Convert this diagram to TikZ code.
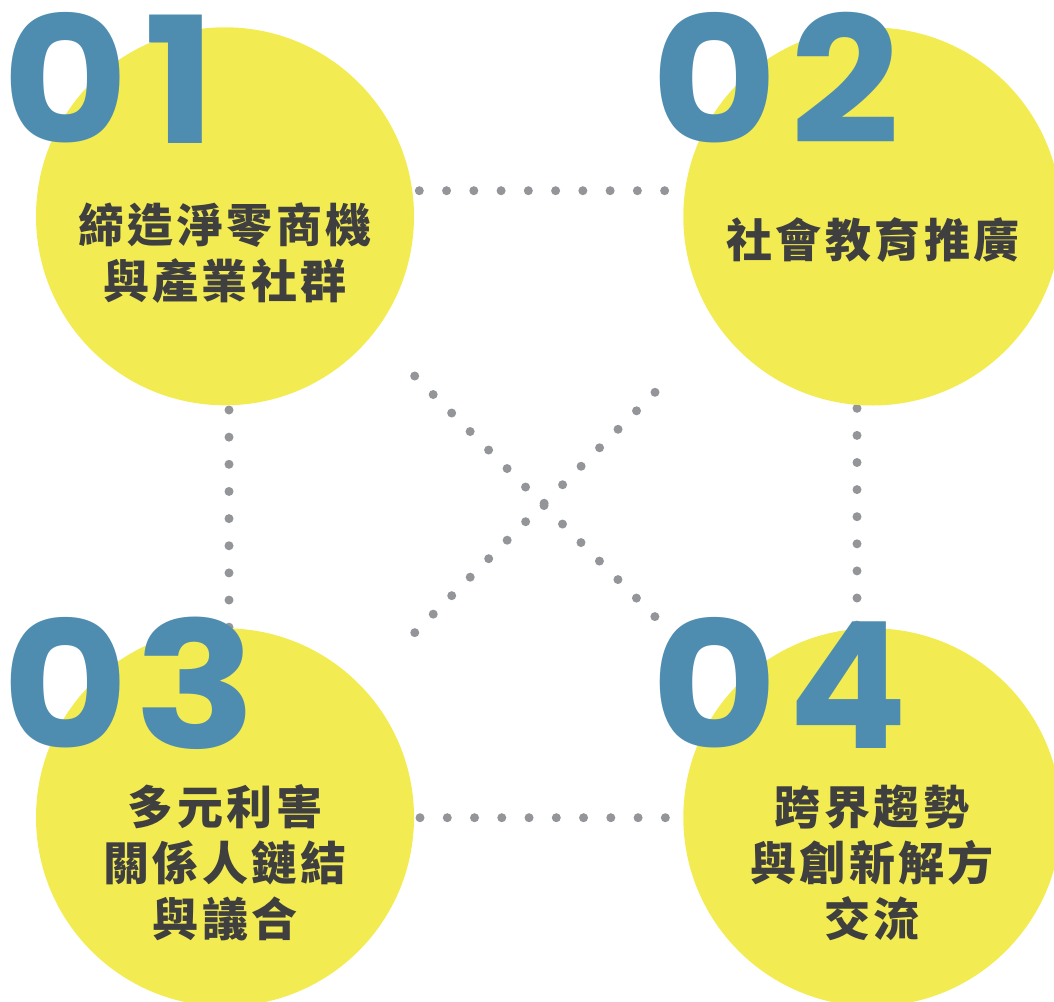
\documentclass[tikz,border=0pt]{standalone}
\usepackage{fontspec}
\newfontfamily\numfont{Poppins}
\newfontfamily\cjk{Noto Sans CJK TC}[LetterSpace=7.5]
\definecolor{yel}{HTML}{F2EC52}
\definecolor{blu}{HTML}{4F8DB0}
\definecolor{txt}{HTML}{3F3F3F}
\definecolor{dotc}{HTML}{939598}
\tikzset{
  dotline/.style={draw=dotc, line width=9pt, line cap=round, dash pattern=on 0pt off #1},
  disc/.style={circle, fill=yel, inner sep=0pt, minimum size=378pt},
  bignum/.style={text=blu, inner sep=0pt, anchor=base, font=\numfont\bfseries\fontsize{176}{176}\selectfont},
  label/.style={text=txt, inner sep=0pt, align=center, font=\cjk\bfseries\fontsize{46}{56}\selectfont}
}
\begin{document}
\begin{tikzpicture}[x=1pt,y=-1pt]
\useasboundingbox (0,0) rectangle (1054,1001);
\clip (0,0) rectangle (1054,1001);
% dotted connectors
\coordinate (ta) at (419.3,190.7); \coordinate (tb) at (665.0,190.7);
\coordinate (ba) at (420.0,817.7); \coordinate (bb) at (665.6,817.7);
\coordinate (la) at (229,410.0);   \coordinate (lb) at (229,627.6);
\coordinate (ra) at (857,408.3);   \coordinate (rb) at (857,625.3);
\coordinate (d1a) at (414.7,376.0); \coordinate (d1b) at (655.2,616.9);
\coordinate (d2a) at (655.0,392.3); \coordinate (d2b) at (414.5,632.9);
\draw[dotline=27.26pt] (ta) -- (tb);
\draw[dotline=27.26pt] (ba) -- (bb);
\draw[dotline=27.15pt] (la) -- (lb);
\draw[dotline=27.10pt] (ra) -- (rb);
\draw[dotline=26.15pt] (d1a) -- (d1b);
\draw[dotline=26.14pt] (d2a) -- (d2b);
% circles
\node[disc] (c1) at (225,216.3) {};
\node[disc] (c2) at (872.3,216.5) {};
\node[disc] (c3) at (225,817.3) {};
\node[disc] (c4) at (872.3,817.3) {};
% numbers (each digit placed and widened separately)
\node[bignum] (n1a) at (66,143)    {\scalebox{1.10}[1]{0}};
\node[bignum] (n1b) at (180,143)   {\scalebox{1.08}[1]{1}};
\node[bignum] (n2a) at (714.5,143) {\scalebox{1.10}[1]{0}};
\node[bignum] (n2b) at (845,143)   {\scalebox{1.09}[1]{2}};
\node[bignum] (n3a) at (66,748.7)  {\scalebox{1.10}[1]{0}};
\node[bignum] (n3b) at (195.5,748.7) {\scalebox{1.15}[1]{3}};
\node[bignum] (n4a) at (714.5,748.7) {\scalebox{1.10}[1]{0}};
\node[bignum] (n4b) at (848.5,748.7) {\scalebox{1.0}[1]{4}};
% labels
\node[label] (t1) at (225,253.5) {締造淨零商機\\與產業社群};
\node[label] (t2) at (873,240.3) {社會教育推廣};
\node[label] (t3) at (225,863) {多元利害\\關係人鏈結\\與議合};
\node[label] (t4) at (872,863) {跨界趨勢\\與創新解方\\交流};
\end{tikzpicture}
\end{document}
